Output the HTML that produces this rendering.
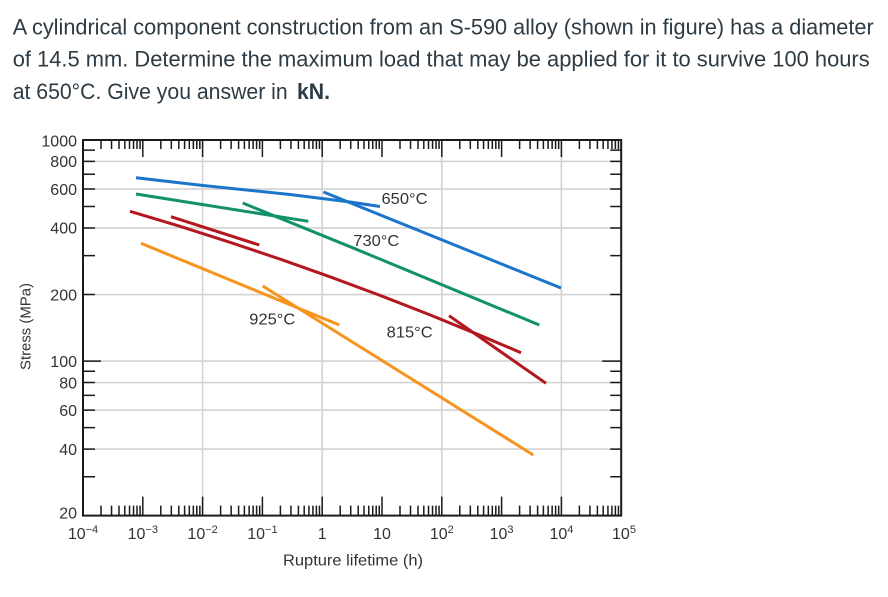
<!DOCTYPE html>
<html>
<head>
<meta charset="utf-8">
<style>
html,body{margin:0;padding:0;background:#fff;}
svg{display:block;}
</style>
</head>
<body>
<svg width="888" height="597" viewBox="0 0 888 597" xmlns="http://www.w3.org/2000/svg">
<defs>
<path id="dt" d="M18 0v9M28.53 0v9M36 0v9M41.8 0v9M46.53 0v9M50.54 0v9M54 0v9M57.06 0v9M59.8 0v17" stroke="#1a1a1a" stroke-width="1.5" fill="none"/>
<path id="db" d="M18 0v-10M28.53 0v-10M36 0v-10M41.8 0v-10M46.53 0v-10M50.54 0v-10M54 0v-10M57.06 0v-10M59.8 0v-19" stroke="#1a1a1a" stroke-width="1.5" fill="none"/>
</defs>
<rect width="888" height="597" fill="#fff"/>

<!-- Header text -->
<g font-family="'Liberation Sans', Arial, sans-serif" font-size="22" fill="#2d3b45">
<text x="12.7" y="34.3" textLength="861" lengthAdjust="spacingAndGlyphs">A cylindrical component construction from an S-590 alloy (shown in figure) has a diameter</text>
<text x="12.7" y="66.7" textLength="857" lengthAdjust="spacingAndGlyphs">of 14.5 mm. Determine the maximum load that may be applied for it to survive 100 hours</text>
<text x="12.7" y="99" textLength="275" lengthAdjust="spacingAndGlyphs">at 650°C. Give you answer in</text>
<text x="297" y="99" font-weight="bold" textLength="33" lengthAdjust="spacingAndGlyphs">kN.</text>
</g>

<!-- Grid -->
<g stroke="#d3d3d3" stroke-width="1.6" fill="none">
<path d="M83 161.43H621.2M83 189.05H621.2M83 227.98H621.2M83 294.54H621.2M83 361.1H621.2M83 382.53H621.2M83 410.15H621.2M83 449.08H621.2"/>
<path d="M202.6 140V515.6M322.2 140V515.6M441.8 140V515.6M561.4 140V515.6"/>
</g>

<!-- Series -->
<g fill="none" stroke-width="3" stroke-linejoin="round">
<polyline stroke="#1b76cb" points="136,177.7 203,185.5 290,194.5 350,202 380,206.5"/>
<polyline stroke="#1b76cb" points="323.5,192 561,288"/>
<polyline stroke="#12916a" points="136,194 308.3,221.3"/>
<polyline stroke="#12916a" points="242.7,203 350,246.7 539.3,325"/>
<polyline stroke="#b3171f" points="130,211.3 180,226.3 230,242.3 280,259.1 330,276.8 380,295.4 430,314.9 480,335.3 521,352.7"/>
<polyline stroke="#b3171f" points="171,216.7 259.3,245"/>
<polyline stroke="#b3171f" points="449,315.7 546,383.3"/>
<polyline stroke="#f7941e" points="141,243.3 339.3,325"/>
<polyline stroke="#f7941e" points="262.7,286 533.3,455"/>
</g>

<!-- Axes frame -->
<rect x="83" y="140" width="538.2" height="375.6" fill="none" stroke="#1a1a1a" stroke-width="2"/>

<!-- Top ticks -->
<g>
<use href="#dt" x="83" y="140"/>
<use href="#dt" x="142.8" y="140"/>
<use href="#dt" x="202.6" y="140"/>
<use href="#dt" x="262.4" y="140"/>
<use href="#dt" x="322.2" y="140"/>
<use href="#dt" x="382" y="140"/>
<use href="#dt" x="441.8" y="140"/>
<use href="#dt" x="501.6" y="140"/>
<use href="#dt" x="561.4" y="140"/>
</g>
<!-- Bottom ticks -->
<g>
<use href="#db" x="83" y="515.6"/>
<use href="#db" x="142.8" y="515.6"/>
<use href="#db" x="202.6" y="515.6"/>
<use href="#db" x="262.4" y="515.6"/>
<use href="#db" x="322.2" y="515.6"/>
<use href="#db" x="382" y="515.6"/>
<use href="#db" x="441.8" y="515.6"/>
<use href="#db" x="501.6" y="515.6"/>
<use href="#db" x="561.4" y="515.6"/>
</g>
<!-- Left ticks -->
<path stroke="#1a1a1a" stroke-width="1.5" fill="none" d="M83 150.12h12M83 161.43h12M83 174.25h12M83 189.05h12M83 206.56h12M83 227.98h12M83 255.61h12M83 294.54h12M83 361.1h18M83 371.22h12M83 382.53h12M83 395.35h12M83 410.15h12M83 427.66h12M83 449.08h12M83 476.71h12"/>
<!-- Right ticks -->
<path stroke="#1a1a1a" stroke-width="1.5" fill="none" d="M621.2 150.12h-11M621.2 161.43h-11M621.2 174.25h-11M621.2 189.05h-11M621.2 206.56h-11M621.2 227.98h-11M621.2 255.61h-11M621.2 294.54h-11M621.2 361.1h-19M621.2 371.22h-11M621.2 382.53h-11M621.2 395.35h-11M621.2 410.15h-11M621.2 427.66h-11M621.2 449.08h-11M621.2 476.71h-11"/>

<!-- Y tick labels -->
<g font-family="'Liberation Sans', Arial, sans-serif" font-size="16" fill="#333" text-anchor="end">
<text x="77" y="146.5">1000</text>
<text x="77" y="167.2">800</text>
<text x="77" y="194.8">600</text>
<text x="77" y="233.7">400</text>
<text x="77" y="300.3">200</text>
<text x="77" y="366.9">100</text>
<text x="77" y="388.3">80</text>
<text x="77" y="415.9">60</text>
<text x="77" y="454.8">40</text>
<text x="77" y="518.5">20</text>
</g>

<!-- X tick labels -->
<g font-family="'Liberation Sans', Arial, sans-serif" font-size="16" fill="#333" text-anchor="middle">
<text x="83" y="539">10<tspan font-size="11" dy="-6">−4</tspan></text>
<text x="142.8" y="539">10<tspan font-size="11" dy="-6">−3</tspan></text>
<text x="202.6" y="539">10<tspan font-size="11" dy="-6">−2</tspan></text>
<text x="262.4" y="539">10<tspan font-size="11" dy="-6">−1</tspan></text>
<text x="322.2" y="539">1</text>
<text x="382" y="539">10</text>
<text x="441.8" y="539">10<tspan font-size="11" dy="-6">2</tspan></text>
<text x="501.6" y="539">10<tspan font-size="11" dy="-6">3</tspan></text>
<text x="561.4" y="539">10<tspan font-size="11" dy="-6">4</tspan></text>
<text x="624" y="539">10<tspan font-size="11" dy="-6">5</tspan></text>
</g>

<!-- Axis titles -->
<g font-family="'Liberation Sans', Arial, sans-serif" fill="#333">
<text x="353" y="565.5" font-size="16" text-anchor="middle" textLength="140" lengthAdjust="spacingAndGlyphs">Rupture lifetime (h)</text>
<text transform="translate(30.5,326.5) rotate(-90)" font-size="15" text-anchor="middle" textLength="87" lengthAdjust="spacingAndGlyphs">Stress (MPa)</text>
</g>

<!-- Curve labels -->
<g font-family="'Liberation Sans', Arial, sans-serif" font-size="16" fill="#333">
<text x="381.5" y="204" textLength="46" lengthAdjust="spacingAndGlyphs">650°C</text>
<text x="353.3" y="246" textLength="46" lengthAdjust="spacingAndGlyphs">730°C</text>
<text x="249.3" y="324.3" textLength="46" lengthAdjust="spacingAndGlyphs">925°C</text>
<text x="386.7" y="337.7" textLength="46" lengthAdjust="spacingAndGlyphs">815°C</text>
</g>
</svg>
</body>
</html>
